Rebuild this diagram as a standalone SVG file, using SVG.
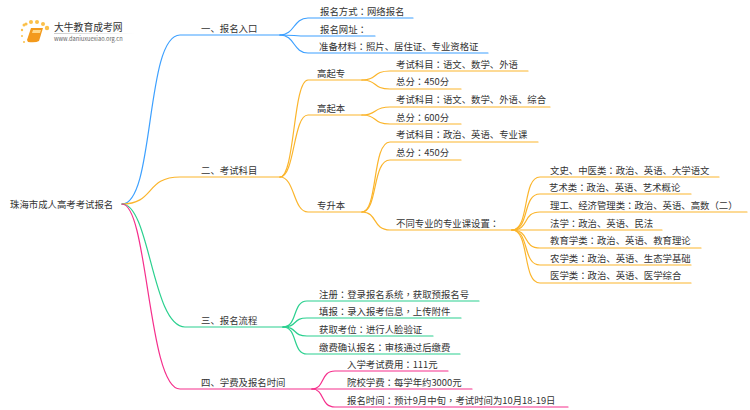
<svg xmlns="http://www.w3.org/2000/svg" width="750" height="410" viewBox="0 0 750 410">
<style>
text{font-family:"Noto Sans CJK SC","Noto Sans",sans-serif;font-size:9.4px;fill:#333}
.k{font-family:"Noto Sans CJK TC",sans-serif}
.c path{fill:none;stroke-width:1.2;stroke-linecap:round}
.b path{stroke:#3da0ff}.o path{stroke:#fbb52c}.g path{stroke:#2bd08f}.p path{stroke:#f52f8c}
.d{fill:#fbc04a}
</style>
<defs><linearGradient id="lg" x1="0" y1="0" x2="1" y2="0"><stop offset="0" stop-color="#ccc"/><stop offset="1" stop-color="#fff"/></linearGradient></defs>
<g id="logo">
<circle class="d" cx="24" cy="25" r="1.5"/><circle class="d" cx="22" cy="30" r="1.2"/><circle class="d" cx="26" cy="24" r="1.6"/><circle class="d" cx="31" cy="22" r="2"/><circle class="d" cx="37" cy="22" r="2"/><circle class="d" cx="43" cy="24" r="2"/><circle class="d" cx="47" cy="28" r="2.2"/><circle class="d" cx="22" cy="36" r="1"/><circle class="d" cx="24" cy="42" r="1"/>
<path d="M31 28H43L39 41Q36 43 28 42L27 40Z" fill="#f39a1c"/><path d="M33 30H41L40 33H32Z" fill="#ffd98a"/>
<rect x="54" y="33" width="80" height="1" fill="url(#lg)"/>
<text x="54" y="31" style="font-size:9.8px">大牛教育成考网</text>
<text x="54" y="41" style="font-size:5.7px;fill:#666">www.daniuxuexiao.org.cn</text>
</g>
<g id="connectors" class="c">
<g class="b">
<path d="M122 204C155 204 145 35 180 35H280"/>
<path d="M280 35C295 35 293 18 308 18H413"/><path d="M280 35C295 35 293 36 308 36H375"/><path d="M280 35C295 35 293 53 308 53H488"/>
</g>
<g class="o">
<path d="M122 204C155 204 145 177 180 177H280"/>
<path d="M280 177C295 177 293 80 308 80H362"/><path d="M280 177C295 177 293 115 308 115H362"/><path d="M280 177C295 177 293 212 308 212H362"/>
<path d="M362 80C378 80 372 71 390 71H528"/><path d="M362 80C378 80 372 89 390 89H461"/>
<path d="M362 115C378 115 372 107 390 107H550"/><path d="M362 115C378 115 372 124 390 124H461"/>
<path d="M362 212C378 212 372 142 390 142H538"/><path d="M362 212C378 212 372 160 390 160H461"/><path d="M362 212C378 212 372 230 390 230H512"/>
<path d="M512 230C530 230 522 177 540 177H719"/><path d="M512 230C530 230 522 194 540 194H691"/><path d="M512 230C530 230 522 212 540 212H747"/><path d="M512 230H662"/><path d="M512 230C530 230 522 248 540 248H701"/><path d="M512 230C530 230 522 265 540 265H691"/><path d="M512 230C530 230 522 283 540 283H691"/>
</g>
<g class="g">
<path d="M122 204C150 204 152 327 185 327H283"/>
<path d="M283 327C298 327 292 301 307 301H479"/><path d="M283 327C298 327 292 318 307 318H461"/><path d="M283 327C298 327 292 336 307 336H433"/><path d="M283 327C298 327 292 354 307 354H460"/>
</g>
<g class="p">
<path d="M122 204C148 204 148 389 180 389H312"/>
<path d="M312 389C325 389 320 371 335 371H448"/><path d="M312 389C325 389 320 389 335 389H472"/><path d="M312 389C325 389 320 407 335 407H568"/>
</g>
</g>
<g id="root"><text x="10" y="208">珠海市成人高考考试报名</text></g>
<g id="n1"><text x="201" y="32">一、报名入口</text></g>
<g id="n1-1"><text x="320" y="15">报名方式<tspan class="k">：</tspan>网络报名</text></g>
<g id="n1-2"><text x="320" y="33">报名网址<tspan class="k">：</tspan></text></g>
<g id="n1-3"><text x="319" y="50">准备材料<tspan class="k">：</tspan>照片、居住证、专业资格证</text></g>
<g id="n2"><text x="201" y="174">二、考试科目</text></g>
<g id="n2-1"><text x="317" y="77">高起专</text></g>
<g id="n2-2"><text x="317" y="112">高起本</text></g>
<g id="n2-3"><text x="317" y="209">专升本</text></g>
<g id="n2-1-1"><text x="396" y="68">考试科目<tspan class="k">：</tspan>语文、数学、外语</text></g>
<g id="n2-1-2"><text x="396" y="85">总分<tspan class="k">：</tspan>450分</text></g>
<g id="n2-2-1"><text x="396" y="103">考试科目<tspan class="k">：</tspan>语文、数学、外语、综合</text></g>
<g id="n2-2-2"><text x="396" y="121">总分<tspan class="k">：</tspan>600分</text></g>
<g id="n2-3-1"><text x="396" y="138">考试科目<tspan class="k">：</tspan>政治、英语、专业课</text></g>
<g id="n2-3-2"><text x="396" y="156">总分<tspan class="k">：</tspan>450分</text></g>
<g id="n2-3-3"><text x="396" y="227">不同专业的专业课设置<tspan class="k">：</tspan></text></g>
<g id="m1"><text x="550" y="174">文史、中医类<tspan class="k">：</tspan>政治、英语、大学语文</text></g>
<g id="m2"><text x="549" y="191">艺术类<tspan class="k">：</tspan>政治、英语、艺术概论</text></g>
<g id="m3"><text x="550" y="209">理工、经济管理类<tspan class="k">：</tspan>政治、英语、高数（二）</text></g>
<g id="m4"><text x="550" y="227">法学<tspan class="k">：</tspan>政治、英语、民法</text></g>
<g id="m5"><text x="550" y="244">教育学类<tspan class="k">：</tspan>政治、英语、教育理论</text></g>
<g id="m6"><text x="550" y="262">农学类<tspan class="k">：</tspan>政治、英语、生态学基础</text></g>
<g id="m7"><text x="550" y="279">医学类<tspan class="k">：</tspan>政治、英语、医学综合</text></g>
<g id="n3"><text x="201" y="324">三、报名流程</text></g>
<g id="n3-1"><text x="319" y="298">注册<tspan class="k">：</tspan>登录报名系统<tspan class="k">，</tspan>获取预报名号</text></g>
<g id="n3-2"><text x="319" y="315">填报<tspan class="k">：</tspan>录入报考信息<tspan class="k">，</tspan>上传附件</text></g>
<g id="n3-3"><text x="319" y="333">获取考位<tspan class="k">：</tspan>进行人脸验证</text></g>
<g id="n3-4"><text x="319" y="351">缴费确认报名<tspan class="k">：</tspan>审核通过后缴费</text></g>
<g id="n4"><text x="201" y="386">四、学费及报名时间</text></g>
<g id="n4-1"><text x="347" y="368">入学考试费用<tspan class="k">：</tspan>111元</text></g>
<g id="n4-2"><text x="347" y="386">院校学费<tspan class="k">：</tspan>每学年约3000元</text></g>
<g id="n4-3"><text x="347" y="404">报名时间<tspan class="k">：</tspan>预计9月中旬<tspan class="k">，</tspan>考试时间为10月18-19日</text></g>
</svg>
